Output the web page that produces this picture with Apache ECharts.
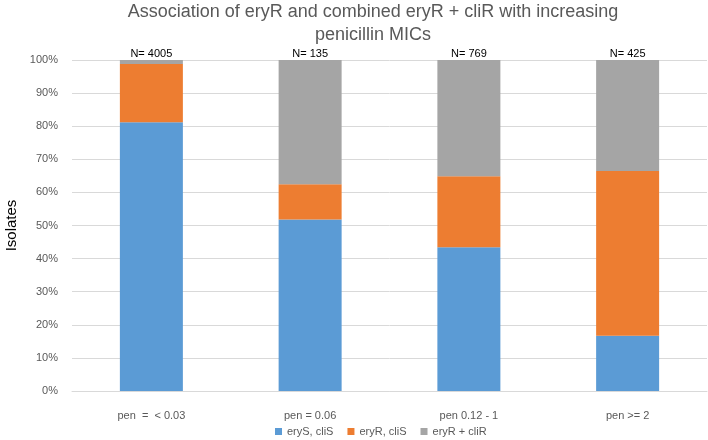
<!DOCTYPE html>
<html>
<head>
<meta charset="utf-8">
<script src="https://cdn.jsdelivr.net/npm/echarts@6/dist/echarts.min.js"></script>
<style>
  body { margin: 0; background: #fff; }
  #chart { width: 708px; height: 440px; }
</style>
</head>
<body>
<div id="chart"></div>
<script>
  // categories and stacked shares (percent of isolates)
  const categories = ['pen  =  < 0.03', 'pen = 0.06', 'pen 0.12 - 1', 'pen >= 2']
  const totals = [4005, 135, 769, 425]
  const erySCliS = [81.2, 51.8, 43.4, 16.7]
  const eryRCliS = [17.6, 10.7, 21.5, 49.8]
  const eryRCliR = [1.2, 37.5, 35.1, 33.5]
  const yTicks = [0, 10, 20, 30, 40, 50, 60, 70, 80, 90, 100]

  const font = 'Liberation Sans'
  const grey = '#595959'

  let elem = echarts.init(document.getElementById('chart'))
  let option = {
    animation: false,
    textStyle: { fontFamily: font },
    title: {
      text: 'Association of eryR and combined eryR + cliR with increasing\npenicillin MICs',
      left: 368,
      top: -4,
      textAlign: 'center',
      textStyle: {
        fontFamily: font,
        fontSize: 18,
        fontWeight: 'normal',
        color: grey,
        lineHeight: 23
      }
    },
    legend: {
      bottom: -2,
      left: 270,
      itemWidth: 7,
      itemHeight: 7,
      itemGap: 14,
      icon: 'rect',
      textStyle: { fontSize: 11, color: grey },
      data: ['eryS, cliS', 'eryR, cliS', 'eryR + cliR']
    },
    grid: {
      left: 72,
      right: 1,
      top: 60,
      bottom: 49,
      outerBoundsMode: 'none'
    },
    xAxis: {
      type: 'category',
      data: categories,
      axisLine: { lineStyle: { color: '#d9d9d9' } },
      axisTick: { show: false },
      axisLabel: { color: grey, fontSize: 11, margin: 19 }
    },
    yAxis: {
      type: 'value',
      min: yTicks[0],
      max: yTicks[yTicks.length - 1],
      interval: yTicks[1] - yTicks[0],
      name: 'Isolates',
      nameLocation: 'middle',
      nameGap: 51,
      nameTextStyle: { fontSize: 15, color: '#000' },
      axisLine: { show: false },
      axisTick: { show: false },
      axisLabel: { color: grey, fontSize: 11, margin: 14, formatter: '{value}%' },
      splitLine: { lineStyle: { color: '#d9d9d9' } }
    },
    series: [
      {
        name: 'eryS, cliS',
        type: 'bar',
        stack: 'all',
        barWidth: 63,
        itemStyle: { color: '#5b9bd5' },
        data: erySCliS
      },
      {
        name: 'eryR, cliS',
        type: 'bar',
        stack: 'all',
        itemStyle: { color: '#ed7d31' },
        data: eryRCliS
      },
      {
        name: 'eryR + cliR',
        type: 'bar',
        stack: 'all',
        itemStyle: { color: '#a5a5a5' },
        label: {
          show: true,
          position: 'top',
          distance: 1,
          fontSize: 11,
          color: '#000',
          formatter: (p) => 'N= ' + totals[p.dataIndex]
        },
        data: eryRCliR
      }
    ]
  }
  elem.setOption(option)
</script>
</body>
</html>
